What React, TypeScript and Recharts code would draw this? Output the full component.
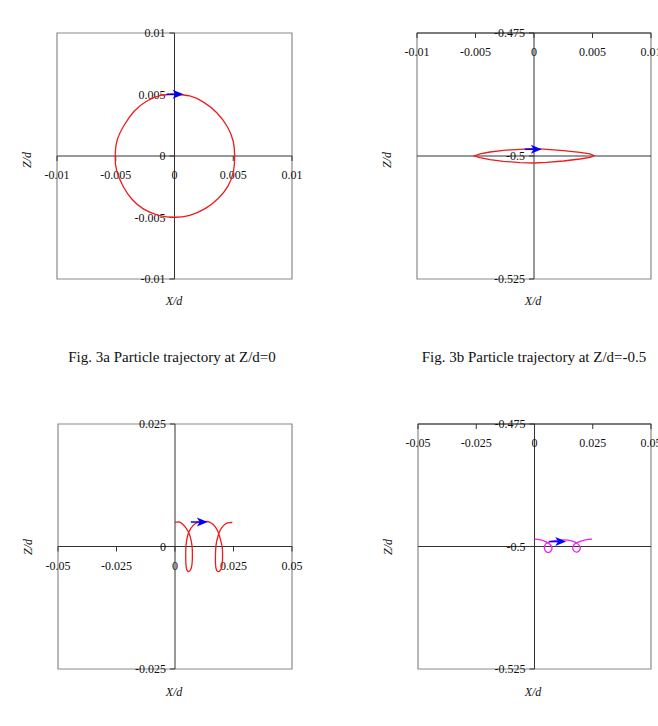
import {
  ScatterChart,
  Scatter,
  XAxis,
  YAxis,
  ReferenceLine,
  ReferenceDot,
  ReferenceArea,
} from "recharts";

// tick values
const ticksSmallX = [-0.01, -0.005, 0, 0.005, 0.01];
const ticksSmallY = [-0.01, -0.005, 0, 0.005, 0.01];
const ticksWideX = [-0.05, -0.025, 0, 0.025, 0.05];
const ticksWideY = [-0.025, 0, 0.025];
const ticksMidY = [-0.525, -0.5, -0.475];

// Fig. 3a: near-circular orbit, clockwise from the top
const trajA: [number, number][] = [
  [0, 0.00502], [0.0013, 0.00488], [0.0025, 0.00436], [0.0036, 0.00352],
  [0.0045, 0.00238], [0.005, 0.00118], [0.00512, 0], [0.00502, -0.00125],
  [0.00455, -0.00245], [0.00372, -0.00345], [0.0026, -0.00428], [0.0013, -0.00482],
  [0, -0.00498], [-0.00135, -0.00482], [-0.00262, -0.00432], [-0.00362, -0.00352],
  [-0.00435, -0.0025], [-0.00492, -0.0012], [-0.00505, 0], [-0.00488, 0.00128],
  [-0.0043, 0.00248], [-0.00345, 0.00362], [-0.00238, 0.00445], [-0.00118, 0.00492],
  [0, 0.00502],
];

// Fig. 3b: flattened orbit around Z/d=-0.5
const trajB: [number, number][] = [
  [0, -0.49844], [0.00137, -0.49871], [0.00251, -0.49892], [0.00393, -0.49925],
  [0.00479, -0.49959], [0.00513, -0.49993], [0.00479, -0.50027], [0.00393, -0.50061],
  [0.00251, -0.50102], [0.00108, -0.50129], [0, -0.50142], [-0.0012, -0.50136],
  [-0.00262, -0.50108], [-0.00376, -0.50075], [-0.00462, -0.50034], [-0.0051, -0.5],
  [-0.00462, -0.49959], [-0.00376, -0.49919], [-0.00262, -0.49885], [-0.0012, -0.49864],
  [0, -0.49844],
];

// Fig. 3c: looping drift to the right
const trajC: [number, number][] = [
  [0, 0.0049], [0.0017, 0.005], [0.0032, 0.0046], [0.0045, 0.0039],
  [0.0057, 0.003], [0.0065, 0.002], [0.0071, 0.0007], [0.0074, -0.0007],
  [0.0074, -0.0027], [0.0071, -0.0041], [0.0066, -0.0048], [0.0059, -0.0051],
  [0.0051, -0.0048], [0.0047, -0.0038], [0.0046, -0.0024], [0.0046, -0.0007],
  [0.0049, 0.001], [0.0055, 0.0024], [0.0064, 0.0034], [0.0076, 0.0042],
  [0.0093, 0.0048], [0.0117, 0.005], [0.0138, 0.0051], [0.0158, 0.0047],
  [0.0172, 0.004], [0.0183, 0.0031], [0.0191, 0.002], [0.0198, 0.0007],
  [0.0203, -0.0007], [0.0203, -0.0027], [0.02, -0.0042], [0.0193, -0.0049],
  [0.0183, -0.0051], [0.0176, -0.0046], [0.0173, -0.0034], [0.0173, -0.0014],
  [0.0176, 0.0005], [0.0183, 0.002], [0.0193, 0.0033], [0.0206, 0.0042],
  [0.0224, 0.0048], [0.0245, 0.0049],
];

// Fig. 3d: small loops around Z/d=-0.5
const trajD: [number, number][] = [
  [0, -0.4985], [0.0026, -0.49863], [0.005, -0.49904], [0.0066, -0.49955],
  [0.0075, -0.5002], [0.0071, -0.5009], [0.0062, -0.50122], [0.0051, -0.5011],
  [0.0043, -0.5005], [0.0044, -0.4998], [0.0053, -0.4993], [0.0069, -0.49895],
  [0.0094, -0.49875], [0.0119, -0.49865], [0.0143, -0.4987], [0.0166, -0.49895],
  [0.0184, -0.4994], [0.0196, -0.5001], [0.0193, -0.5008], [0.0182, -0.50115],
  [0.0169, -0.5009], [0.0164, -0.5003], [0.0169, -0.49965], [0.0182, -0.4992],
  [0.0203, -0.49885], [0.0225, -0.4986], [0.0247, -0.4985],
];

// arrow tips (direction of motion)
const arrowA: [number, number] = [0.00077, 0.00502];
const arrowB: [number, number] = [0.00066, -0.49864];
const arrowC: [number, number] = [0.014, 0.005];
const arrowD: [number, number] = [0.0136, -0.499];

const SERIF = "'Liberation Serif', 'Times New Roman', serif";
const M = 40;

type PanelProps = {
  left: number;
  top: number;
  w: number;
  h: number;
  xDomain: [number, number];
  yDomain: [number, number];
  xTicks: number[];
  yTicks: number[];
  xAxisAt: number;
  gridY?: number;
  traj: [number, number][];
  arrow: [number, number];
  color: string;
  curve: "natural" | "linear";
};

function Panel(p: PanelProps) {
  const pts = p.traj.map(([x, y]) => ({ x, y }));
  return (
    <div style={{ position: "absolute", left: p.left - M, top: p.top - M }}>
      <ScatterChart
        width={p.w + 2 * M}
        height={p.h + 2 * M}
        margin={{ top: M, right: M, bottom: M, left: M }}
      >
        <XAxis type="number" dataKey="x" domain={p.xDomain} allowDataOverflow hide />
        <YAxis type="number" dataKey="y" domain={p.yDomain} allowDataOverflow hide />
        <ReferenceArea
          x1={p.xDomain[0]}
          x2={p.xDomain[1]}
          y1={p.yDomain[0]}
          y2={p.yDomain[1]}
          fill="none"
          fillOpacity={0}
          stroke="#8a8a8a"
          strokeWidth={1.2}
          ifOverflow="visible"
        />
        {p.gridY !== undefined && (
          <ReferenceLine y={p.gridY} stroke="#333" strokeWidth={1} ifOverflow="visible" />
        )}
        <ReferenceLine y={p.xAxisAt} stroke="#333" strokeWidth={1} ifOverflow="visible" />
        <ReferenceLine x={0} stroke="#333" strokeWidth={1} ifOverflow="visible" />
        {p.xTicks.map((v) => (
          <ReferenceDot
            key={"x" + v}
            x={v}
            y={p.xAxisAt}
            ifOverflow="visible"
            shape={(s: any) => (
              <g>
                <line x1={s.cx} y1={s.cy} x2={s.cx} y2={s.cy + 5} stroke="#333" />
                <text
                  x={s.cx}
                  y={s.cy + 23}
                  textAnchor="middle"
                  fontSize={12}
                  fontFamily={SERIF}
                  fill="#111"
                >
                  {String(v)}
                </text>
              </g>
            )}
          />
        ))}
        {p.yTicks.map((v) => (
          <ReferenceDot
            key={"y" + v}
            x={0}
            y={v}
            ifOverflow="visible"
            shape={(s: any) => (
              <g>
                <line x1={s.cx - 5} y1={s.cy} x2={s.cx} y2={s.cy} stroke="#333" />
                <text
                  x={s.cx - 9}
                  y={s.cy + 4}
                  textAnchor="end"
                  fontSize={12}
                  fontFamily={SERIF}
                  fill="#111"
                >
                  {String(v)}
                </text>
              </g>
            )}
          />
        ))}
        <Scatter
          data={pts}
          line={{ stroke: p.color, strokeWidth: 1.3 }}
          lineJointType={p.curve}
          shape={() => <g />}
          isAnimationActive={false}
        />
        <ReferenceDot
          x={p.arrow[0]}
          y={p.arrow[1]}
          ifOverflow="visible"
          shape={(s: any) => (
            <g>
              <line
                x1={s.cx - 17}
                y1={s.cy}
                x2={s.cx - 7}
                y2={s.cy}
                stroke="#0000ff"
                strokeWidth={1.5}
              />
              <path
                d={`M${s.cx},${s.cy} L${s.cx - 11},${s.cy - 4.5} L${s.cx - 8},${s.cy} L${s.cx - 11},${s.cy + 4.5} Z`}
                fill="#0000ff"
              />
            </g>
          )}
        />
      </ScatterChart>
    </div>
  );
}

function Txt({
  x,
  y,
  children,
  size = 12,
  italic = false,
  rotate = false,
}: {
  x: number;
  y: number;
  children: React.ReactNode;
  size?: number;
  italic?: boolean;
  rotate?: boolean;
}) {
  return (
    <div
      style={{
        position: "absolute",
        left: x,
        top: y,
        transform: `translate(-50%, -50%)${rotate ? " rotate(-90deg)" : ""}`,
        fontFamily: SERIF,
        fontSize: size,
        fontStyle: italic ? "italic" : "normal",
        whiteSpace: "nowrap",
        lineHeight: 1,
        color: "#111",
      }}
    >
      {children}
    </div>
  );
}

export default function App() {
  return (
    <div
      style={{
        position: "absolute",
        left: 0,
        top: 0,
        width: 658,
        height: 726,
        overflow: "hidden",
        background: "#fff",
      }}
    >
      <Panel
        left={57}
        top={33}
        w={235}
        h={246}
        xDomain={[-0.01, 0.01]}
        yDomain={[-0.01, 0.01]}
        xTicks={ticksSmallX}
        yTicks={ticksSmallY}
        xAxisAt={0}
        traj={trajA}
        arrow={arrowA}
        color="#ee1c1c"
        curve="natural"
      />
      <Panel
        left={417}
        top={33}
        w={234}
        h={246}
        xDomain={[-0.01, 0.01]}
        yDomain={[-0.525, -0.475]}
        xTicks={ticksSmallX}
        yTicks={ticksMidY}
        xAxisAt={-0.475}
        gridY={-0.5}
        traj={trajB}
        arrow={arrowB}
        color="#ee1c1c"
        curve="linear"
      />
      <Panel
        left={58}
        top={424}
        w={234}
        h={245}
        xDomain={[-0.05, 0.05]}
        yDomain={[-0.025, 0.025]}
        xTicks={ticksWideX}
        yTicks={ticksWideY}
        xAxisAt={0}
        traj={trajC}
        arrow={arrowC}
        color="#ee1c1c"
        curve="natural"
      />
      <Panel
        left={418}
        top={424}
        w={233}
        h={245}
        xDomain={[-0.05, 0.05]}
        yDomain={[-0.525, -0.475]}
        xTicks={ticksWideX}
        yTicks={ticksMidY}
        xAxisAt={-0.475}
        gridY={-0.5}
        traj={trajD}
        arrow={arrowD}
        color="#ee22ee"
        curve="natural"
      />

      <Txt x={27} y={160} italic rotate>Z/d</Txt>
      <Txt x={174} y={301} italic>X/d</Txt>
      <Txt x={387} y={160} italic rotate>Z/d</Txt>
      <Txt x={533} y={301} italic>X/d</Txt>
      <Txt x={28} y={547} italic rotate>Z/d</Txt>
      <Txt x={174} y={692} italic>X/d</Txt>
      <Txt x={388} y={547} italic rotate>Z/d</Txt>
      <Txt x={533} y={692} italic>X/d</Txt>

      <Txt x={172} y={357} size={15}>Fig. 3a Particle trajectory at Z/d=0</Txt>
      <Txt x={534} y={357} size={15}>Fig. 3b Particle trajectory at Z/d=-0.5</Txt>
    </div>
  );
}
